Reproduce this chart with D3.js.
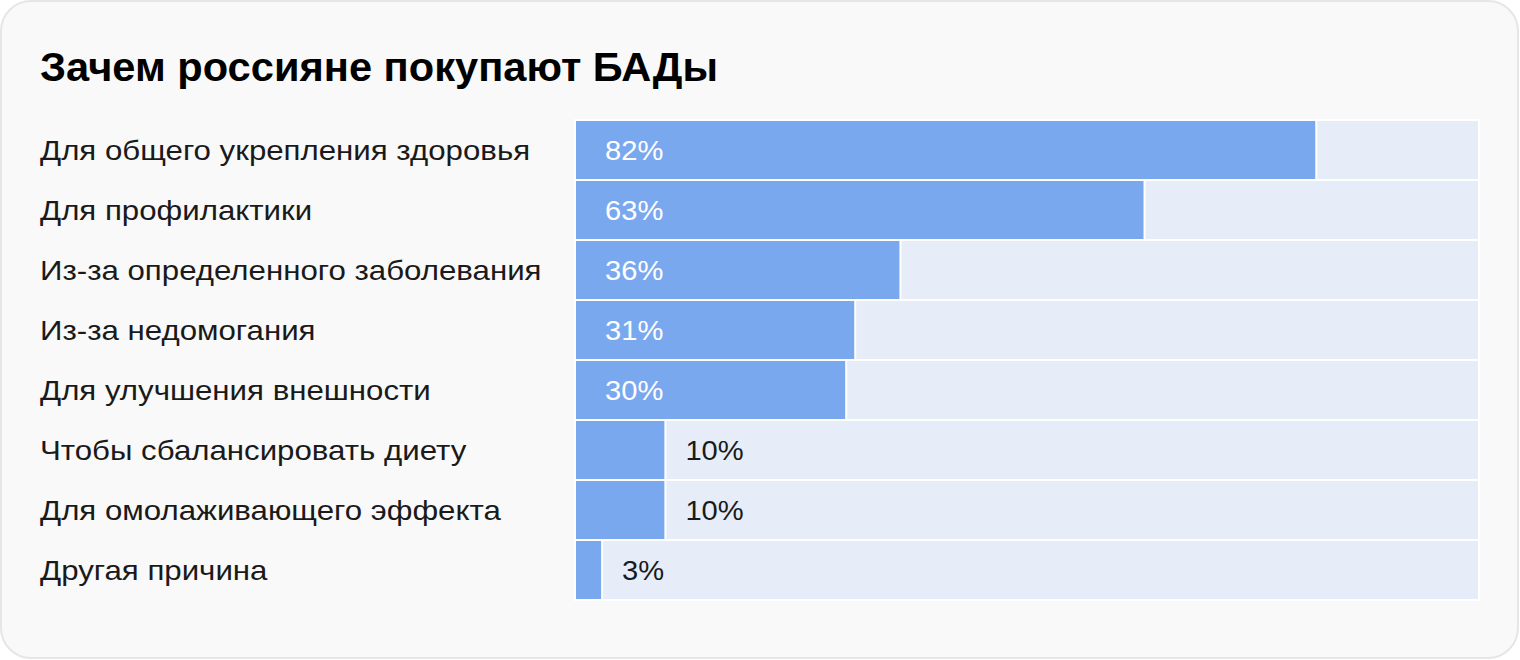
<!DOCTYPE html>
<html><head><meta charset="utf-8">
<script src="https://cdn.jsdelivr.net/npm/d3@7"></script>
<style>
html,body{margin:0;padding:0;background:#ffffff;}
svg{display:block;}
</style></head>
<body>
<svg id="chart" width="1520" height="660"></svg>
<script>
const title = "Зачем россияне покупают БАДы";
const categories = [
  "Для общего укрепления здоровья",
  "Для профилактики",
  "Из-за определенного заболевания",
  "Из-за недомогания",
  "Для улучшения внешности",
  "Чтобы сбалансировать диету",
  "Для омолаживающего эффекта",
  "Другая причина"
];
const values = [82, 63, 36, 31, 30, 10, 10, 3];

const svg = d3.select("#chart");
const W = 1520, H = 660;
svg.append("rect").attr("x",1).attr("y",1).attr("width",W-3).attr("height",H-3)
  .attr("rx",30).attr("fill","#f9f9f9").attr("stroke","#e6e6e6").attr("stroke-width",2);

svg.append("text").attr("x",40).attr("y",81).text(title)
  .attr("font-family","Liberation Sans, Arial, sans-serif").attr("font-weight","bold")
  .attr("font-size",40).attr("fill","#000").attr("textLength",678).attr("lengthAdjust","spacingAndGlyphs");

const x = d3.scaleLinear().domain([0,100]).range([575,1479]);
const y = d3.scaleBand().domain(categories).range([120,600]).padding(0);

const g = svg.append("g");
const rows = g.selectAll("g.row").data(categories.map((c,i)=>({c,v:values[i]}))).join("g");

rows.append("rect").attr("x",x(0)).attr("y",d=>y(d.c)).attr("width",x(100)-x(0)).attr("height",y.bandwidth())
  .attr("fill","#e6edf8").attr("stroke","#ffffff").attr("stroke-width",2);
rows.append("rect").attr("x",x(0)).attr("y",d=>y(d.c)).attr("width",d=>x(d.v)-x(0)).attr("height",y.bandwidth())
  .attr("fill","#7aa8ee").attr("stroke","#ffffff").attr("stroke-width",2);

function widen(k){
  return sel => sel.each(function(){
    const w = this.getComputedTextLength();
    d3.select(this).attr("textLength", w*k).attr("lengthAdjust","spacingAndGlyphs");
  });
}

rows.append("text").attr("x",40).attr("y",d=>y(d.c)+y.bandwidth()/2+10).text(d=>d.c)
  .attr("font-family","Liberation Sans, Arial, sans-serif").attr("font-size",28).attr("fill","#1a1a1a")
  .call(widen(1.115));

rows.append("text")
  .attr("x",d=> d.v>=20 ? x(0)+30 : x(d.v)+20)
  .attr("y",d=>y(d.c)+y.bandwidth()/2+10)
  .text(d=>d.v+"%")
  .attr("font-family","Liberation Sans, Arial, sans-serif").attr("font-size",28)
  .attr("fill",d=> d.v>=20 ? "#ffffff" : "#1a1a1a")
  .call(widen(1.04));
</script>
</body></html>
